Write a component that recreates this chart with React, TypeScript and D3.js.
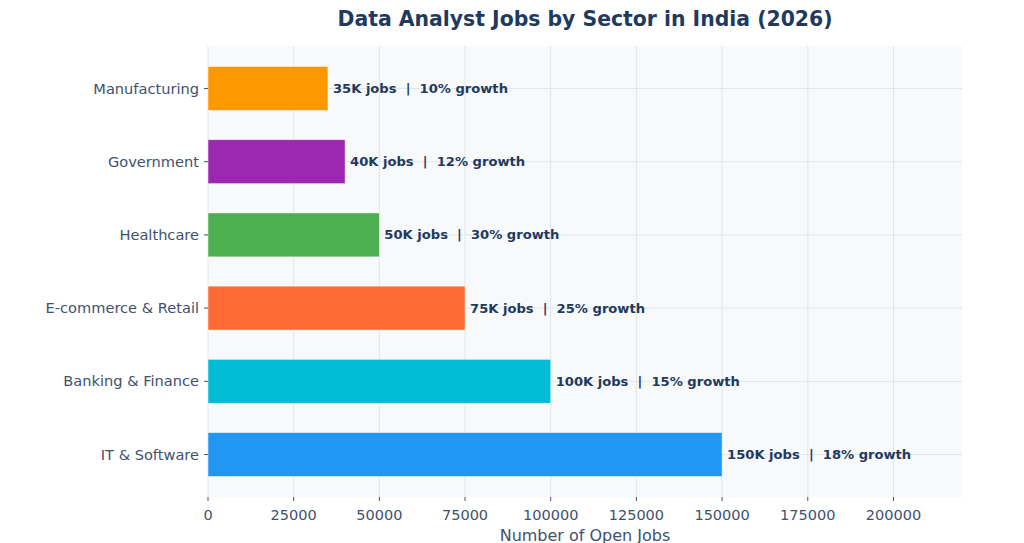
import React, { useRef, useEffect } from "react";
import * as d3 from "d3";

// top to bottom in the picture is reversed; index 0 sits at the bottom
const sectors = [
  "IT & Software",
  "Banking & Finance",
  "E-commerce & Retail",
  "Healthcare",
  "Government",
  "Manufacturing",
];
const openJobs = [150000, 100000, 75000, 50000, 40000, 35000];
const growth = [18, 15, 25, 30, 12, 10];
const barColors = ["#2196F3", "#00BCD4", "#FF6B35", "#4CAF50", "#9C27B0", "#FF9800"];
const xTicks = [0, 25000, 50000, 75000, 100000, 125000, 150000, 175000, 200000];

const App = () => {
  const ref = useRef<SVGSVGElement>(null);

  useEffect(() => {
    const width = 1024;
    const height = 543;
    const left = 208;
    const right = 962;
    const top = 46;
    const bottom = 497;
    const font = "DejaVu Sans, sans-serif";
    const navy = "#1f3a5f";
    const tickColor = "#3e5170";

    const svg = d3.select(ref.current).attr("width", width).attr("height", height);
    svg.selectAll("*").remove();

    const x = d3.scaleLinear().domain([0, 220000]).range([left, right]);
    const y = d3.scaleLinear().domain([-0.58, 5.58]).range([bottom, top]);
    const barH = y(0) - y(0.6);

    svg
      .append("rect")
      .attr("width", width)
      .attr("height", height)
      .attr("fill", "#ffffff");

    svg
      .append("rect")
      .attr("x", left)
      .attr("y", top)
      .attr("width", right - left)
      .attr("height", bottom - top)
      .attr("fill", "#f8f9fb");

    // grid
    svg
      .append("g")
      .selectAll("line.vx")
      .data(xTicks)
      .enter()
      .append("line")
      .attr("x1", (d) => x(d))
      .attr("x2", (d) => x(d))
      .attr("y1", top)
      .attr("y2", bottom)
      .attr("stroke", "#e1e5ec")
      .attr("stroke-width", 1);

    svg
      .append("g")
      .selectAll("line.hy")
      .data(sectors)
      .enter()
      .append("line")
      .attr("x1", left)
      .attr("x2", right)
      .attr("y1", (d, i) => y(i))
      .attr("y2", (d, i) => y(i))
      .attr("stroke", "#e1e5ec")
      .attr("stroke-width", 1);

    // bars
    svg
      .append("g")
      .selectAll("rect")
      .data(sectors)
      .enter()
      .append("rect")
      .attr("x", x(0))
      .attr("y", (d, i) => y(i) - barH / 2)
      .attr("width", (d, i) => x(openJobs[i]) - x(0))
      .attr("height", barH)
      .attr("fill", (d, i) => barColors[i])
      .attr("stroke", "#ffffff")
      .attr("stroke-opacity", 0.6)
      .attr("stroke-width", 0.8);

    // value labels
    svg
      .append("g")
      .selectAll("text")
      .data(sectors)
      .enter()
      .append("text")
      .attr("x", (d, i) => x(openJobs[i]) + 5)
      .attr("y", (d, i) => y(i))
      .attr("dy", "0.35em")
      .style("font-family", font)
      .style("font-size", "13.1px")
      .style("font-weight", "bold")
      .style("white-space", "pre")
      .attr("fill", navy)
      .text((d, i) => `${openJobs[i] / 1000}K jobs  |  ${growth[i]}% growth`);

    // y axis
    const yAxis = svg.append("g");
    sectors.forEach((s, i) => {
      yAxis
        .append("line")
        .attr("x1", left - 4)
        .attr("x2", left)
        .attr("y1", y(i))
        .attr("y2", y(i))
        .attr("stroke", tickColor);
      yAxis
        .append("text")
        .attr("x", left - 9)
        .attr("y", y(i))
        .attr("dy", "0.35em")
        .attr("text-anchor", "end")
        .style("font-family", font)
        .style("font-size", "14.6px")
        .attr("fill", tickColor)
        .text(s);
    });

    // x axis
    const xAxis = svg.append("g");
    xTicks.forEach((t) => {
      xAxis
        .append("line")
        .attr("x1", x(t))
        .attr("x2", x(t))
        .attr("y1", bottom)
        .attr("y2", bottom + 4)
        .attr("stroke", tickColor);
      xAxis
        .append("text")
        .attr("x", x(t))
        .attr("y", bottom + 23)
        .attr("text-anchor", "middle")
        .style("font-family", font)
        .style("font-size", "14.5px")
        .attr("fill", tickColor)
        .text(String(t));
    });

    svg
      .append("text")
      .attr("x", (left + right) / 2)
      .attr("y", 541)
      .attr("text-anchor", "middle")
      .style("font-family", font)
      .style("font-size", "16px")
      .attr("fill", tickColor)
      .text("Number of Open Jobs");

    svg
      .append("text")
      .attr("x", (left + right) / 2)
      .attr("y", 26)
      .attr("text-anchor", "middle")
      .style("font-family", font)
      .style("font-size", "20.4px")
      .style("font-weight", "bold")
      .attr("fill", navy)
      .text("Data Analyst Jobs by Sector in India (2026)");
  }, []);

  return <svg ref={ref} style={{ position: "absolute", left: 0, top: 0 }}></svg>;
};

export default App;
